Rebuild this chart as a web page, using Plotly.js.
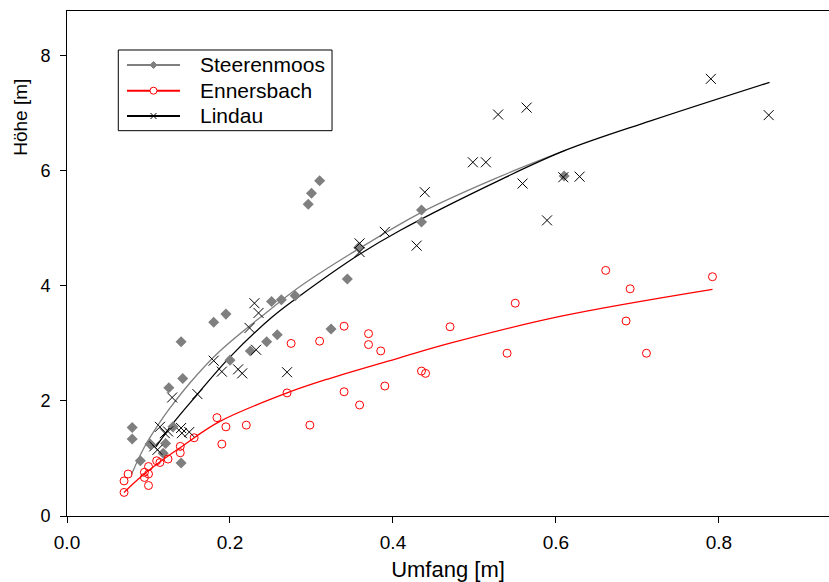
<!DOCTYPE html>
<html>
<head>
<meta charset="utf-8">
<script src="https://cdn.plot.ly/plotly-3.0.1.min.js"></script>
<style>html,body{margin:0;padding:0;background:#fff;overflow:hidden;}#chart{width:829px;height:582px;}</style>
</head>
<body>
<div id="chart"></div>
<script>
// Steerenmoos (grey diamonds)
const steerX = [0.080,0.080,0.090,0.102,0.118,0.121,0.130,0.140,0.125,0.142,0.140,0.180,0.195,0.200,0.225,0.245,0.251,0.258,0.263,0.280,0.296,0.300,0.310,0.324,0.344,0.358,0.435,0.435,0.610];
const steerY = [1.54,1.34,0.96,1.25,1.09,1.26,1.55,0.92,2.23,2.39,3.03,3.37,3.51,2.71,2.87,3.03,3.73,3.15,3.76,3.83,5.42,5.61,5.83,3.25,4.12,4.67,5.32,5.11,5.91];
// Ennersbach (red open circles)
const ennX = [0.070,0.070,0.075,0.095,0.100,0.100,0.095,0.100,0.110,0.114,0.124,0.139,0.139,0.156,0.184,0.195,0.190,0.220,0.270,0.275,0.298,0.310,0.340,0.340,0.359,0.370,0.370,0.385,0.390,0.435,0.440,0.470,0.540,0.550,0.661,0.686,0.691,0.711,0.792];
const ennY = [0.41,0.61,0.73,0.76,0.86,0.73,0.67,0.53,0.96,0.93,0.99,1.21,1.10,1.36,1.71,1.55,1.25,1.58,2.14,3.00,1.58,3.04,3.30,2.16,1.93,3.17,2.98,2.87,2.26,2.52,2.48,3.29,2.83,3.70,4.27,3.39,3.95,2.83,4.16];
// Lindau (black crosses)
const linX = [0.107,0.111,0.114,0.120,0.124,0.140,0.141,0.150,0.129,0.160,0.180,0.190,0.210,0.215,0.224,0.230,0.232,0.235,0.270,0.359,0.359,0.390,0.429,0.439,0.498,0.514,0.529,0.559,0.564,0.589,0.609,0.629,0.790,0.861];
const linY = [1.21,1.15,1.55,1.44,1.47,1.53,1.44,1.46,2.06,2.12,2.70,2.51,2.55,2.48,3.27,3.70,2.89,3.53,2.50,4.74,4.59,4.94,4.70,5.63,6.15,6.15,6.98,5.78,7.10,5.14,5.89,5.90,7.60,6.97];
// fitted curves
const steerFitX = [0.079,0.095,0.113,0.126,0.150,0.187,0.244,0.285,0.347,0.435,0.531,0.612];
const steerFitY = [0.72,1.20,1.61,1.87,2.30,2.86,3.53,3.98,4.55,5.28,5.90,6.36];
const ennFitX = [0.070,0.089,0.113,0.140,0.187,0.270,0.322,0.408,0.469,0.605,0.792];
const ennFitY = [0.41,0.66,0.93,1.20,1.64,2.14,2.39,2.75,3.00,3.47,3.94];
const linFitX = [0.109,0.130,0.159,0.199,0.251,0.285,0.359,0.408,0.531,0.612,0.716,0.862];
const linFitY = [1.20,1.61,2.10,2.75,3.45,3.82,4.55,4.96,5.84,6.36,6.87,7.54];
const names = ['Steerenmoos','Ennersbach','Lindau'];
const xTicks = [0, 0.2, 0.4, 0.6, 0.8];
const yTicks = [0, 2, 4, 6, 8];

const grey = '#7f7f7f', red = '#ff0000', black = '#000000';
const traces = [
  {x: steerFitX, y: steerFitY, mode:'lines', line:{color:grey,width:1.3,shape:'spline'}, showlegend:false, hoverinfo:'skip'},
  {x: ennFitX, y: ennFitY, mode:'lines', line:{color:red,width:1.3,shape:'spline'}, showlegend:false, hoverinfo:'skip'},
  {x: linFitX, y: linFitY, mode:'lines', line:{color:black,width:1.3,shape:'spline'}, showlegend:false, hoverinfo:'skip'},
  {x: steerX, y: steerY, name:names[0], mode:'markers', marker:{symbol:'diamond',size:8.5,color:grey,line:{width:0}}, showlegend:false},
  {x: ennX, y: ennY, name:names[1], mode:'markers', marker:{symbol:'circle-open',size:8,color:red,line:{width:1}}, showlegend:false},
  {x: linX, y: linY, name:names[2], mode:'markers', marker:{symbol:'x-thin-open',size:10,color:black,line:{width:1,color:black}}, showlegend:false}
];

// legend box drawn with shapes/annotations (paper coordinates)
const legColors = [grey, red, black];
const legRows = [0.8931, 0.8422, 0.7921];
const shapes = [
  {type:'rect', xref:'paper', yref:'paper', x0:0.0673, x1:0.3478, y0:0.763, y1:0.9228, line:{color:'#000',width:1}, fillcolor:'#fff', layer:'above'}
];
const annotations = [
  {text:'Höhe [m]', xref:'paper', yref:'paper', x:-0.062, y:0.79, textangle:-90, showarrow:false,
   font:{size:19}, xanchor:'center', yanchor:'middle'}
];
names.forEach((n, i) => {
  shapes.push({type:'line', xref:'paper', yref:'paper', x0:0.0787, x1:0.1483, y0:legRows[i], y1:legRows[i], line:{color:legColors[i], width:2}, layer:'above'});
  const base = {xref:'paper', yref:'paper', xsizemode:'pixel', ysizemode:'pixel', xanchor:0.1135, yanchor:legRows[i], layer:'above'};
  if (i === 0) {
    shapes.push(Object.assign({type:'path', path:'M0,-3.5 L3.5,0 L0,3.5 L-3.5,0 Z', line:{color:grey,width:1}, fillcolor:grey}, base));
  } else if (i === 1) {
    shapes.push(Object.assign({type:'circle', x0:-3.5, x1:3.5, y0:-3.5, y1:3.5, line:{color:red,width:1}, fillcolor:'#ffffff'}, base));
  } else {
    shapes.push(Object.assign({type:'path', path:'M-3,-3 L3,3 M-3,3 L3,-3', line:{color:black,width:1}}, base));
  }
  annotations.push({text:n, xref:'paper', yref:'paper', x:0.1719, y:legRows[i], xanchor:'left', yanchor:'middle', showarrow:false,
    font:{size:21}});
});

const layout = {
  width: 829, height: 582,
  margin: {l:67, r:0, t:11, b:66, pad:0},
  paper_bgcolor:'#ffffff', plot_bgcolor:'#ffffff',
  font: {family:'Liberation Sans, Arial, sans-serif', color:'#000', size:18},
  xaxis: {
    range:[0,0.935], tickvals:xTicks, ticktext:xTicks.map(v => v.toFixed(1)),
    ticks:'outside', ticklen:6, tickcolor:'#000', showline:true, linecolor:'#000', linewidth:1, mirror:true,
    showgrid:false, zeroline:false, ticklabelstandoff:3,
    tickfont:{size:19},
    title:{text:'Umfang [m]', font:{size:22}, standoff:12}
  },
  yaxis: {
    range:[0,8.78], tickvals:yTicks,
    ticks:'outside', ticklen:6, tickcolor:'#000', showline:true, linecolor:'#000', linewidth:1, mirror:false,
    showgrid:false, zeroline:false, ticklabelstandoff:6,
    tickfont:{size:18}
  },
  shapes: shapes,
  annotations: annotations,
  showlegend:false
};
Plotly.newPlot('chart', traces, layout, {displayModeBar:false, staticPlot:true});
</script>
</body>
</html>
